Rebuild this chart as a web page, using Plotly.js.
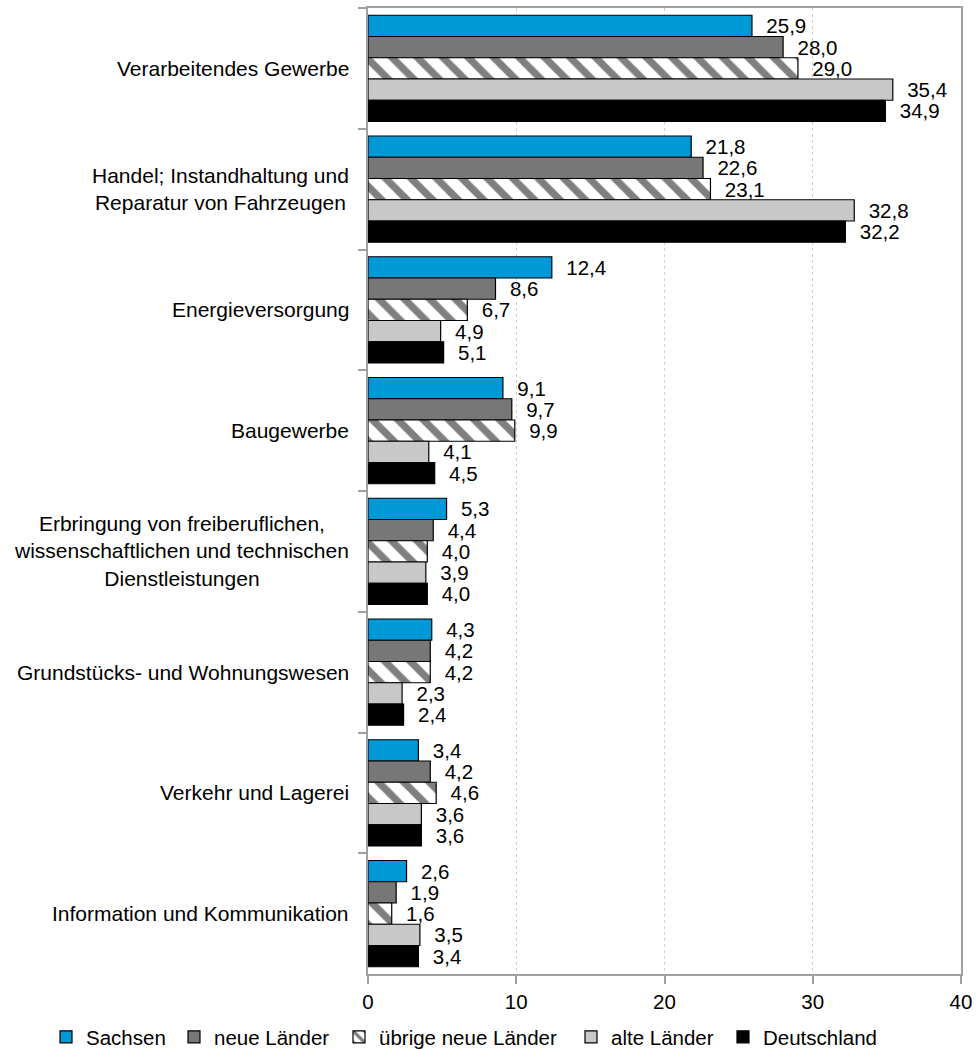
<!DOCTYPE html>
<html><head><meta charset="utf-8">
<script src="https://cdn.plot.ly/plotly-3.0.1.min.js"></script>
<style>html,body{margin:0;padding:0;background:#fff}#c{width:978px;height:1050px}</style>
</head><body><div id="c"></div>
<script>
const categories = [
  "Verarbeitendes Gewerbe",
  "Handel; Instandhaltung und<br>Reparatur von Fahrzeugen",
  "Energieversorgung",
  "Baugewerbe",
  "Erbringung von freiberuflichen,<br>wissenschaftlichen und technischen<br>Dienstleistungen",
  "Grundstücks- und Wohnungswesen",
  "Verkehr und Lagerei",
  "Information und Kommunikation"
];
const seriesNames = ["Sachsen", "neue Länder", "übrige neue Länder", "alte Länder", "Deutschland"];
const sachsen     = [25.9, 21.8, 12.4, 9.1, 5.3, 4.3, 3.4, 2.6];
const neueLaender = [28.0, 22.6, 8.6, 9.7, 4.4, 4.2, 4.2, 1.9];
const uebrigeNeue = [29.0, 23.1, 6.7, 9.9, 4.0, 4.2, 4.6, 1.6];
const alteLaender = [35.4, 32.8, 4.9, 4.1, 3.9, 2.3, 3.6, 3.5];
const deutschland = [34.9, 32.2, 5.1, 4.5, 4.0, 2.4, 3.6, 3.4];
const xTicks = [0, 10, 20, 30, 40];

const values = [sachsen, neueLaender, uebrigeNeue, alteLaender, deutschland];
const styles = [
  {color: "#0099D8"},
  {color: "#777777"},
  {color: "#ffffff", pattern: {shape: "\\", fgcolor: "#7f7f7f", bgcolor: "#ffffff", size: 18, solidity: 0.4}},
  {color: "#C8C8C8"},
  {color: "#000000"}
];
const legendLeft = [46, 174, 339, 571, 723]; // px from left for each legend entry
const font = "Liberation Sans, Arial, sans-serif";
const FS = 20.5;
const W = 978, H = 1050;
const legendIds = ["legend", "legend2", "legend3", "legend4", "legend5"];
const traces = values.map((v, i) => ({
  type: "bar",
  orientation: "h",
  name: seriesNames[i],
  legend: legendIds[i],
  y: categories,
  x: v,
  text: v.map(n => "\u00a0\u00a0" + n.toFixed(1).replace(".", ",")),
  textposition: "outside",
  constraintext: "none",
  cliponaxis: false,
  textfont: {family: font, size: FS, color: "#000"},
  marker: Object.assign({line: {color: "#000", width: 1.2}}, styles[i]),
  hoverinfo: "skip"
}));

const annotations = categories.map(c => ({
  text: c, xref: "paper", x: 0, xshift: -17, xanchor: "right",
  yref: "y", y: c, yanchor: "middle", align: "center", showarrow: false,
  font: {family: font, size: 21, color: "#000"}
}));

const layout = {
  width: W, height: H,
  margin: {l: 368, r: 17, t: 8, b: 76},
  paper_bgcolor: "#fff", plot_bgcolor: "#fff",
  font: {family: font, size: FS, color: "#000"},
  barmode: "group", bargap: 0.12, bargroupgap: 0,
  showlegend: true,
  xaxis: {range: [0, 40], tickvals: xTicks, ticktext: xTicks.map(String),
          showgrid: true, gridcolor: "#d0d0d0", griddash: "dot", gridwidth: 1,
          zeroline: false, showline: true, linecolor: "#a0a0a0", linewidth: 2, mirror: true,
          ticks: "outside", ticklen: 8, tickcolor: "#a0a0a0", tickwidth: 2,
          tickfont: {family: font, size: FS, color: "#000"}, fixedrange: true},
  yaxis: {type: "category", autorange: "reversed", showticklabels: false,
          showline: true, linecolor: "#a0a0a0", linewidth: 2, mirror: true,
          ticks: "outside", tickson: "boundaries", ticklen: 8, tickcolor: "#a0a0a0", tickwidth: 2,
          showgrid: false, fixedrange: true},
  annotations: annotations
};
legendIds.forEach((id, i) => {
  layout[id] = {orientation: "h", xref: "container", yref: "container",
    x: legendLeft[i] / W, xanchor: "left", y: 13 / H, yanchor: "middle",
    font: {family: font, size: FS, color: "#000"}, itemwidth: 30,
    bgcolor: "rgba(0,0,0,0)", borderwidth: 0};
});
Plotly.newPlot("c", traces, layout, {displayModeBar: false, staticPlot: true});
</script></body></html>
